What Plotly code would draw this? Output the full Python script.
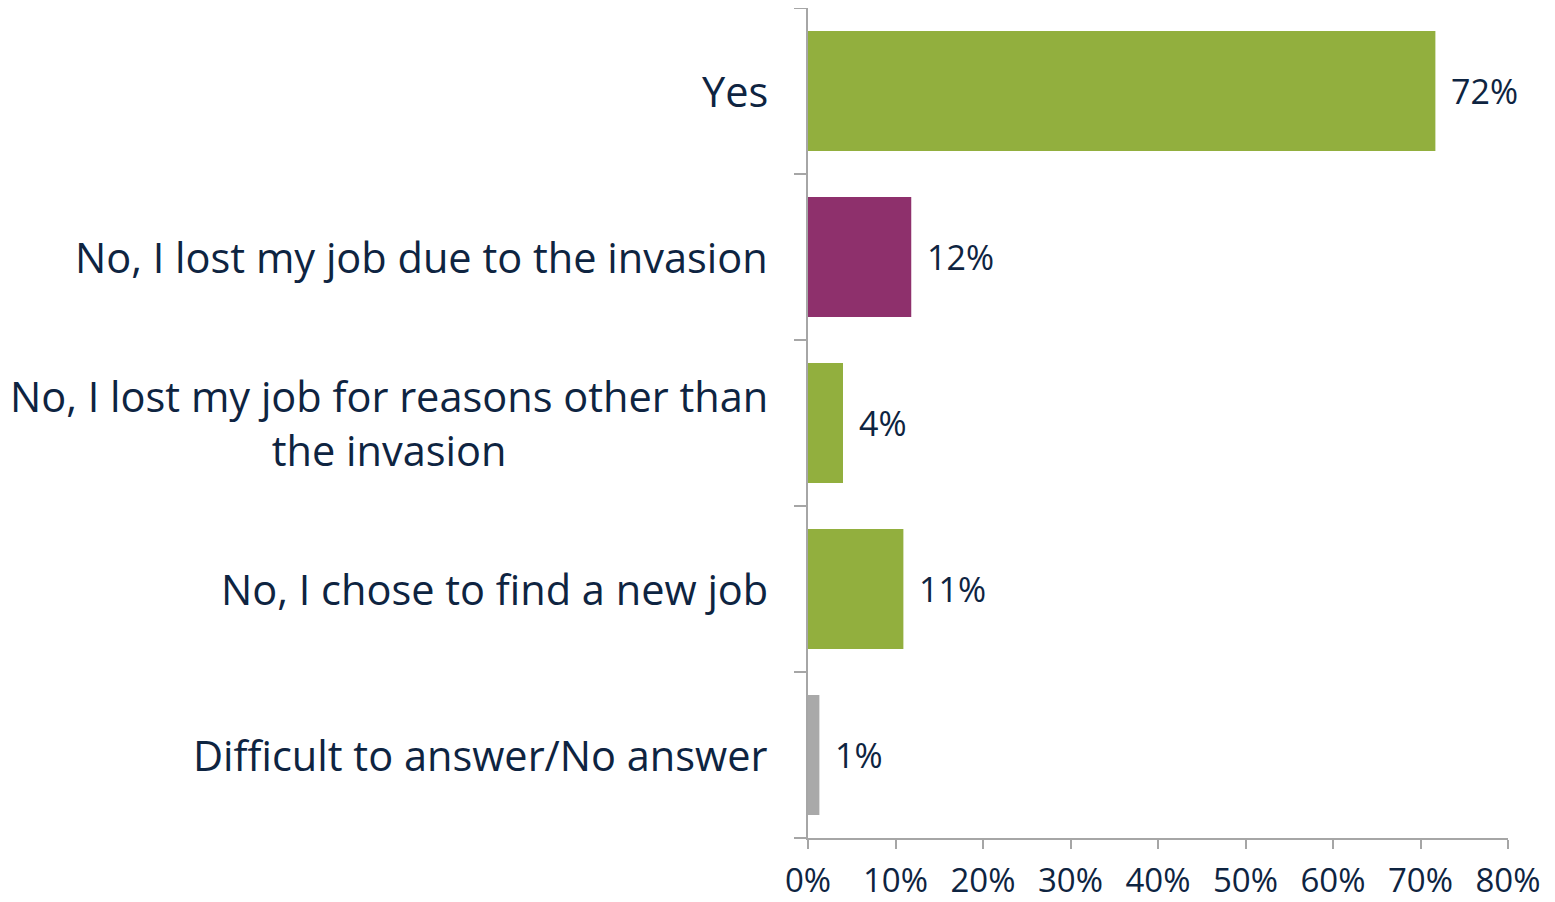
import plotly.graph_objects as go

categories = [
    "Yes",
    "No, I lost my job due to the invasion",
    "No, I lost my job for reasons other than<br>the invasion",
    "No, I chose to find a new job",
    "Difficult to answer/No answer",
]
values = [71.7, 11.8, 4.0, 10.9, 1.3]
labels = ["72%", "12%", "4%", "11%", "1%"]
colors = ["#92AF3E", "#8E306C", "#92AF3E", "#92AF3E", "#A9A9A9"]
x_ticks = [0, 10, 20, 30, 40, 50, 60, 70, 80]
x_ticklabels = [f"{t}%" for t in x_ticks]

FONT = "Open Sans"
TXT = "#0E2441"
AX = "#A6A6A6"

fig = go.Figure()
fig.add_trace(go.Bar(
    y=categories, x=values, orientation="h",
    marker=dict(color=colors, line=dict(width=0)),
    hoverinfo="skip",
))

annotations = []
for c, v, l in zip(categories, values, labels):
    annotations.append(dict(
        x=v, y=c, xref="x", yref="y", text=l, showarrow=False,
        xanchor="left", xshift=14, font=dict(family=FONT, size=34, color=TXT),
    ))
    annotations.append(dict(
        x=0, y=c, xref="paper", yref="y", text=c, showarrow=False,
        xanchor="right", xshift=-38, align="center",
        font=dict(family=FONT, size=41.5, color=TXT),
    ))

fig.update_layout(
    width=1547, height=894,
    margin=dict(l=800, r=47, t=0, b=64, autoexpand=False),
    paper_bgcolor="white", plot_bgcolor="white",
    bargap=0.277,
    showlegend=False,
    annotations=annotations,
    xaxis=dict(
        range=[0, 80], tickvals=x_ticks, ticktext=x_ticklabels,
        showgrid=False, zeroline=False, showline=True, linecolor=AX, linewidth=2,
        ticks="outside", ticklen=9, tickwidth=2, tickcolor=AX,
        tickfont=dict(family=FONT, size=33, color=TXT),
        ticklabelstandoff=3,
        automargin=False,
    ),
    yaxis=dict(
        categoryorder="array", categoryarray=categories,
        range=[4.5, -0.5],
        showticklabels=False, showgrid=False,
        showline=True, linecolor=AX, linewidth=2, zeroline=False,
        ticks="", automargin=False,
    ),
    yaxis2=dict(
        overlaying="y", range=[4.5, -0.5], tickvals=[-0.5, 0.5, 1.5, 2.5, 3.5, 4.5],
        ticks="outside", ticklen=13, tickwidth=2, tickcolor=AX,
        showticklabels=False, showgrid=False, zeroline=False, showline=False,
        automargin=False,
    ),
)
fig.add_trace(go.Scatter(x=[None], y=[None], yaxis="y2", showlegend=False, hoverinfo="skip"))

fig.write_html("out.html")
